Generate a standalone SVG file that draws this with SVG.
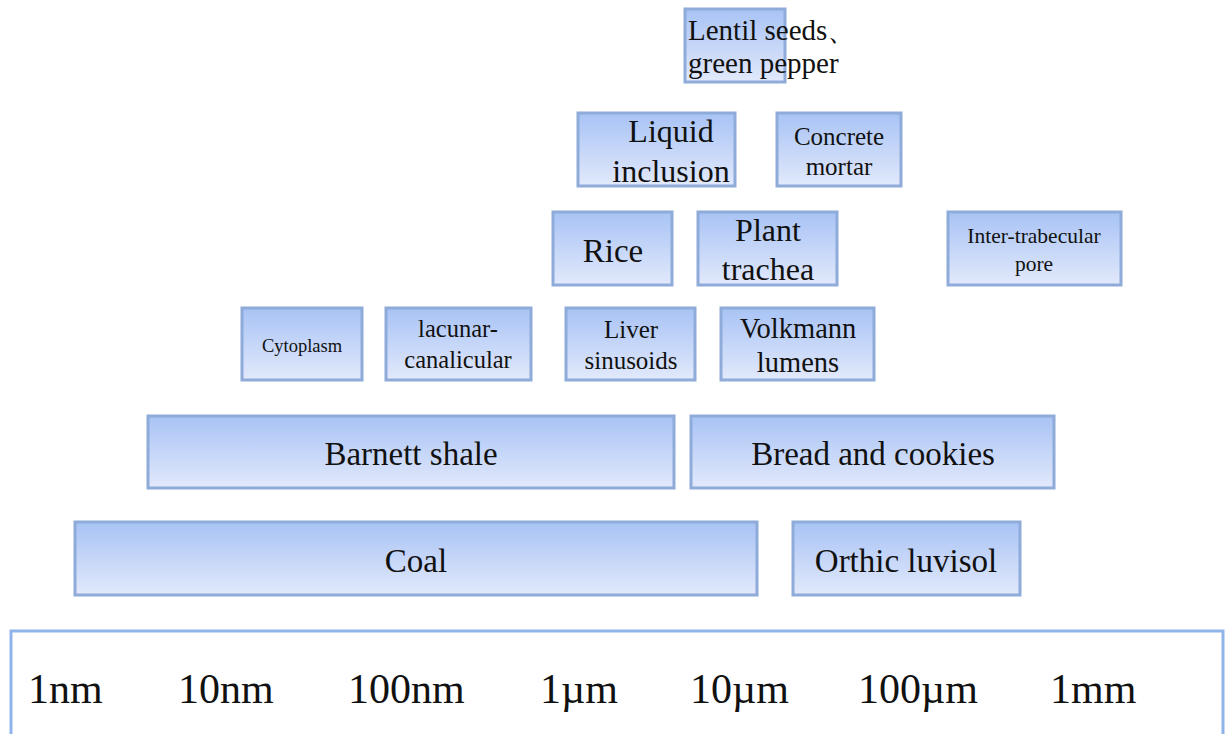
<svg xmlns="http://www.w3.org/2000/svg" width="1227" height="734" viewBox="0 0 1227 734">
<defs>
<linearGradient id="g" x1="0" y1="0" x2="0" y2="1">
<stop offset="0" stop-color="#a8c3f5"/>
<stop offset="1" stop-color="#e2e9fb"/>
</linearGradient>
</defs>
<style>
.b{fill:url(#g);stroke:#8eabd9;stroke-width:3}
text{font-family:"Liberation Serif","Times New Roman",serif;fill:#111;text-anchor:middle}
.s{font-size:42px;text-anchor:start}
</style>
<rect width="1227" height="734" fill="#fff"/>
<g id="lentil"><rect class="b" x="685" y="9" width="100" height="73"/><text x="688" y="40" font-size="29" style="text-anchor:start">Lentil seeds、</text><text x="688" y="73" font-size="29" style="text-anchor:start">green pepper</text></g>
<g id="liquid"><rect class="b" x="578" y="113" width="157" height="73"/><text x="671" y="142" font-size="32">Liquid</text><text x="671" y="182" font-size="32">inclusion</text></g>
<g id="concrete"><rect class="b" x="777" y="113" width="124" height="73"/><text x="839" y="145" font-size="25">Concrete</text><text x="839" y="175" font-size="25">mortar</text></g>
<g id="rice"><rect class="b" x="553" y="212" width="119" height="73"/><text x="613" y="262" font-size="33">Rice</text></g>
<g id="plant"><rect class="b" x="698" y="212" width="139" height="73"/><text x="768" y="241" font-size="32">Plant</text><text x="768" y="280" font-size="32">trachea</text></g>
<g id="inter"><rect class="b" x="948" y="212" width="173" height="73"/><text x="1034" y="243" font-size="21.5">Inter-trabecular</text><text x="1034" y="271" font-size="21.5">pore</text></g>
<g id="cyto"><rect class="b" x="242" y="308" width="120" height="72"/><text x="302" y="352" font-size="18.5">Cytoplasm</text></g>
<g id="lacunar"><rect class="b" x="386" y="308" width="145" height="72"/><text x="458" y="337" font-size="24.5">lacunar-</text><text x="458" y="368" font-size="24.5">canalicular</text></g>
<g id="liver"><rect class="b" x="566" y="308" width="129" height="72"/><text x="631" y="338" font-size="25">Liver</text><text x="631" y="369" font-size="25">sinusoids</text></g>
<g id="volkmann"><rect class="b" x="721" y="308" width="153" height="72"/><text x="798" y="338" font-size="28.5">Volkmann</text><text x="798" y="372" font-size="28.5">lumens</text></g>
<g id="barnett"><rect class="b" x="148" y="416" width="526" height="72"/><text x="411" y="465" font-size="33">Barnett shale</text></g>
<g id="bread"><rect class="b" x="691" y="416" width="363" height="72"/><text x="873" y="465" font-size="33">Bread and cookies</text></g>
<g id="coal"><rect class="b" x="75" y="522" width="682" height="73"/><text x="416" y="572" font-size="33">Coal</text></g>
<g id="orthic"><rect class="b" x="793" y="522" width="227" height="73"/><text x="906" y="572" font-size="33">Orthic luvisol</text></g>
<g id="scale">
<rect x="11" y="631" width="1212" height="120" fill="#fff" stroke="#8fb4e9" stroke-width="3"/>
<text class="s" x="28" y="703">1nm</text>
<text class="s" x="178" y="703">10nm</text>
<text class="s" x="348" y="703">100nm</text>
<text class="s" x="540" y="703">1µm</text>
<text class="s" x="690" y="703">10µm</text>
<text class="s" x="858" y="703">100µm</text>
<text class="s" x="1050" y="703">1mm</text>
</g>
<g id="connectors"/>
</svg>
